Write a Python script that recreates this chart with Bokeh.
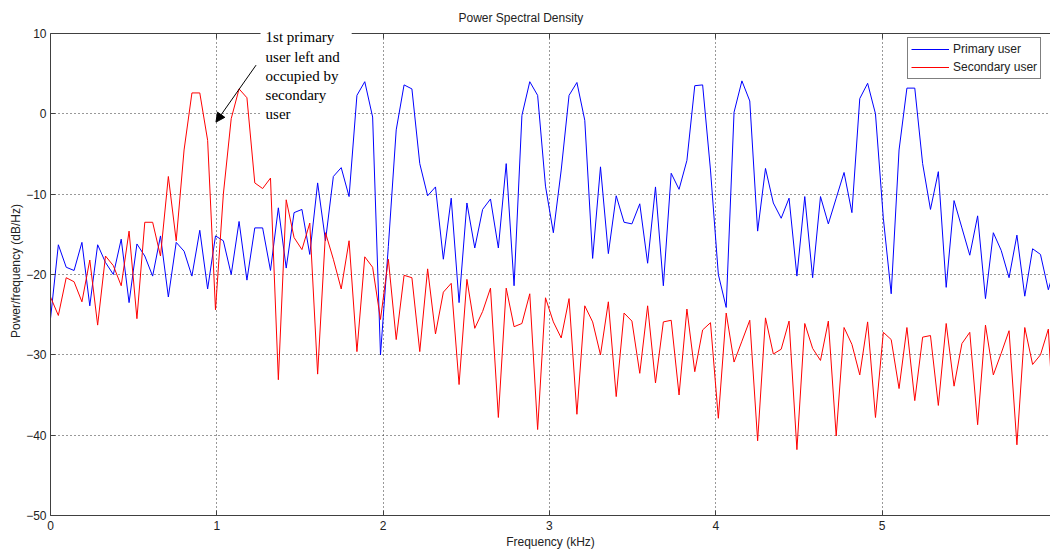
import numpy as np
from bokeh.plotting import figure
from bokeh.models import (Range1d, FixedTicker, Label, Arrow, NormalHead, LinearAxis,
                          CustomJSTickFormatter, ColumnDataSource, Legend, LegendItem)
from bokeh.embed import file_html
from bokeh.resources import INLINE

# ---- data ----
primary_db = [
    -25.5, -16.3, -19.1, -19.5, -16.0, -23.9, -16.3, -18.5, -20.0, -15.6,
    -23.5, -16.2, -17.7, -20.2, -15.2, -22.8, -16.0, -17.1, -20.2, -14.5,
    -21.8, -15.2, -15.8, -20.0, -13.4, -20.7, -14.2, -14.2, -19.5, -11.7,
    -19.2, -12.3, -11.9, -17.5, -8.6, -15.8, -7.8, -6.7, -10.3, 2.3,
    4.0, -0.4, -30.0, -16.5, -2.0, 3.6, 3.1, -6.2, -10.2, -9.1,
    -18.1, -10.5, -23.5, -11.1, -16.7, -11.9, -10.6, -16.7, -6.2, -21.4,
    -0.2, 4.0, 2.3, -9.0, -14.8, -7.0, 2.3, 3.9, -0.8, -18.0,
    -6.6, -17.4, -10.2, -13.5, -13.7, -11.2, -18.6, -9.1, -21.4, -7.4,
    -9.4, -5.8, 3.5, 3.6, -7.0, -20.0, -24.1, 0.2, 4.1, 1.6,
    -14.6, -6.8, -11.1, -13.0, -10.5, -20.2, -10.3, -20.4, -10.3, -13.7,
    -10.5, -7.3, -12.3, 1.9, 3.8, 0.0, -13.0, -22.4, -4.5, 3.2,
    3.2, -6.2, -11.9, -7.2, -21.6, -10.8, -14.2, -17.6, -12.7, -23.0,
    -14.8, -17.0, -20.4, -15.1, -22.7, -16.8, -17.5, -21.9, -18.5,
]
secondary_db = [
    -22.8, -25.1, -20.4, -20.9, -23.4, -18.2, -26.3, -17.7, -18.9, -21.4,
    -14.6, -25.5, -13.5, -13.5, -17.7, -7.8, -15.8, -4.5, 2.6, 2.6,
    -3.3, -24.4, -10.0, -0.6, 3.1, 2.0, -8.6, -9.3, -8.0, -33.1,
    -10.7, -15.4, -16.9, -13.6, -32.4, -14.8, -18.1, -21.8, -15.8, -29.6,
    -17.8, -19.1, -25.6, -18.1, -28.1, -20.1, -20.4, -29.6, -19.3, -27.4,
    -22.2, -21.1, -33.7, -20.6, -26.7, -24.6, -21.7, -37.8, -21.7, -26.5,
    -26.1, -22.4, -39.3, -22.9, -25.9, -27.9, -23.0, -37.4, -23.9, -25.9,
    -30.0, -23.4, -35.2, -24.8, -25.8, -32.3, -23.9, -33.5, -25.9, -25.7,
    -35.0, -24.3, -32.1, -26.9, -26.0, -37.9, -24.8, -30.9, -28.3, -25.7,
    -40.7, -25.4, -29.9, -29.3, -25.8, -41.8, -26.1, -29.2, -30.7, -25.8,
    -40.1, -26.6, -28.7, -32.5, -25.9, -37.8, -27.2, -28.1, -34.2, -26.6,
    -35.7, -27.8, -27.6, -36.3, -26.1, -33.9, -28.6, -27.2, -38.7, -26.3,
    -32.5, -29.8, -27.0, -41.2, -26.6, -31.2, -30.0, -26.8, -44.0,
]
freq_step_khz = 6.0 / 127
freq_khz = np.arange(len(primary_db)) * freq_step_khz

x_ticks = [0, 1, 2, 3, 4, 5]
y_ticks = [-50, -40, -30, -20, -10, 0, 10]
y_top = 10
series_names = ["Primary user", "Secondary user"]
series_colors = ["#0000ff", "#ff0000"]
note_text = "1st primary\nuser left and\noccupied by\nsecondary\nuser"

FONT = "Liberation Sans"
AX = "#404040"

src = ColumnDataSource(data=dict(f=freq_khz, primary=primary_db, secondary=secondary_db))

p = figure(width=1050, height=551, output_backend="svg", toolbar_location=None,
           x_range=Range1d(0, 6.013), y_range=Range1d(-50, 10.87),
           min_border_left=50, min_border_right=0, min_border_top=26,
           min_border_bottom=35, background_fill_color="white",
           border_fill_color="white")
p.outline_line_color = None

p.title.text = "Power Spectral Density"
p.title.align = "left"
p.title.offset = 408
p.title.standoff = 4
p.title.text_font = FONT
p.title.text_font_size = "12px"
p.title.text_font_style = "normal"
p.title.text_color = "#222222"

for ax in (p.xaxis[0], p.yaxis[0]):
    ax.major_tick_in = 5
    ax.major_tick_out = 0
    ax.minor_tick_line_color = None
    ax.axis_line_color = AX
    ax.major_tick_line_color = AX
    ax.major_label_text_font = FONT
    ax.major_label_text_font_size = "12px"
    ax.major_label_text_color = "#222222"
    ax.axis_label_text_font = FONT
    ax.axis_label_text_font_size = "12px"
    ax.axis_label_text_font_style = "normal"
    ax.axis_label_text_color = "#222222"

p.xaxis.ticker = FixedTicker(ticks=x_ticks)
p.yaxis.ticker = FixedTicker(ticks=y_ticks)
p.yaxis.bounds = (-50, y_top)
p.xaxis.axis_label = "Frequency (kHz)"
p.yaxis.axis_label = "Power/frequency (dB/Hz)"
p.xaxis.major_label_standoff = 5
p.xaxis.axis_label_standoff = 2
p.yaxis.major_label_standoff = 4
p.yaxis.axis_label_standoff = 0

# top side of the axes box, with inward ticks, at y = 10
top_axis = LinearAxis(ticker=FixedTicker(ticks=x_ticks), fixed_location=y_top,
                      major_tick_in=5, major_tick_out=0, minor_tick_line_color=None,
                      axis_line_color=AX, major_tick_line_color=AX,
                      formatter=CustomJSTickFormatter(code="return ''"),
                      major_label_standoff=0)
p.add_layout(top_axis, "above")

p.xgrid.ticker = FixedTicker(ticks=x_ticks)
p.ygrid.ticker = FixedTicker(ticks=y_ticks)
for g in (p.xgrid[0], p.ygrid[0]):
    g.grid_line_color = "#333333"
    g.grid_line_dash = "1 3"
    g.grid_line_width = 1
try:
    p.xgrid[0].cross_bounds = (-50, y_top)
except Exception:
    pass

r_p = p.line(x="f", y="primary", source=src, line_color=series_colors[0], line_width=1)
r_s = p.line(x="f", y="secondary", source=src, line_color=series_colors[1], line_width=1)

lg = Legend(items=[LegendItem(label=series_names[0], renderers=[r_p]),
                   LegendItem(label=series_names[1], renderers=[r_s])],
            location=(857, 436))
lg.border_line_color = "black"
lg.border_line_width = 1
lg.background_fill_color = "white"
lg.background_fill_alpha = 1
lg.label_text_font = FONT
lg.label_text_font_size = "12px"
lg.label_text_color = "#222222"
lg.glyph_width = 38
lg.glyph_height = 16
lg.label_height = 16
lg.label_standoff = 4
lg.spacing = 2
lg.padding = 3
lg.margin = 0
p.add_layout(lg)

note = Label(x=1.263, y=10.75, text=note_text, text_font="Liberation Serif",
             text_font_size="15px", text_baseline="top", text_align="left",
             text_color="black", background_fill_color="white", text_line_height=1.2,
             level="overlay")
try:
    note.padding = dict(left=5, right=12, top=2, bottom=3)
except Exception:
    try:
        note.padding = 4
    except Exception:
        pass
p.add_layout(note)

arrow = Arrow(end=NormalHead(size=9, fill_color="black", line_color="black"),
              x_start=1.236, y_start=6.06, x_end=0.995, y_end=-1.03,
              line_color="black", line_width=1, level="overlay")
p.add_layout(arrow)

open("out.html", "w").write(file_html(p, INLINE))
